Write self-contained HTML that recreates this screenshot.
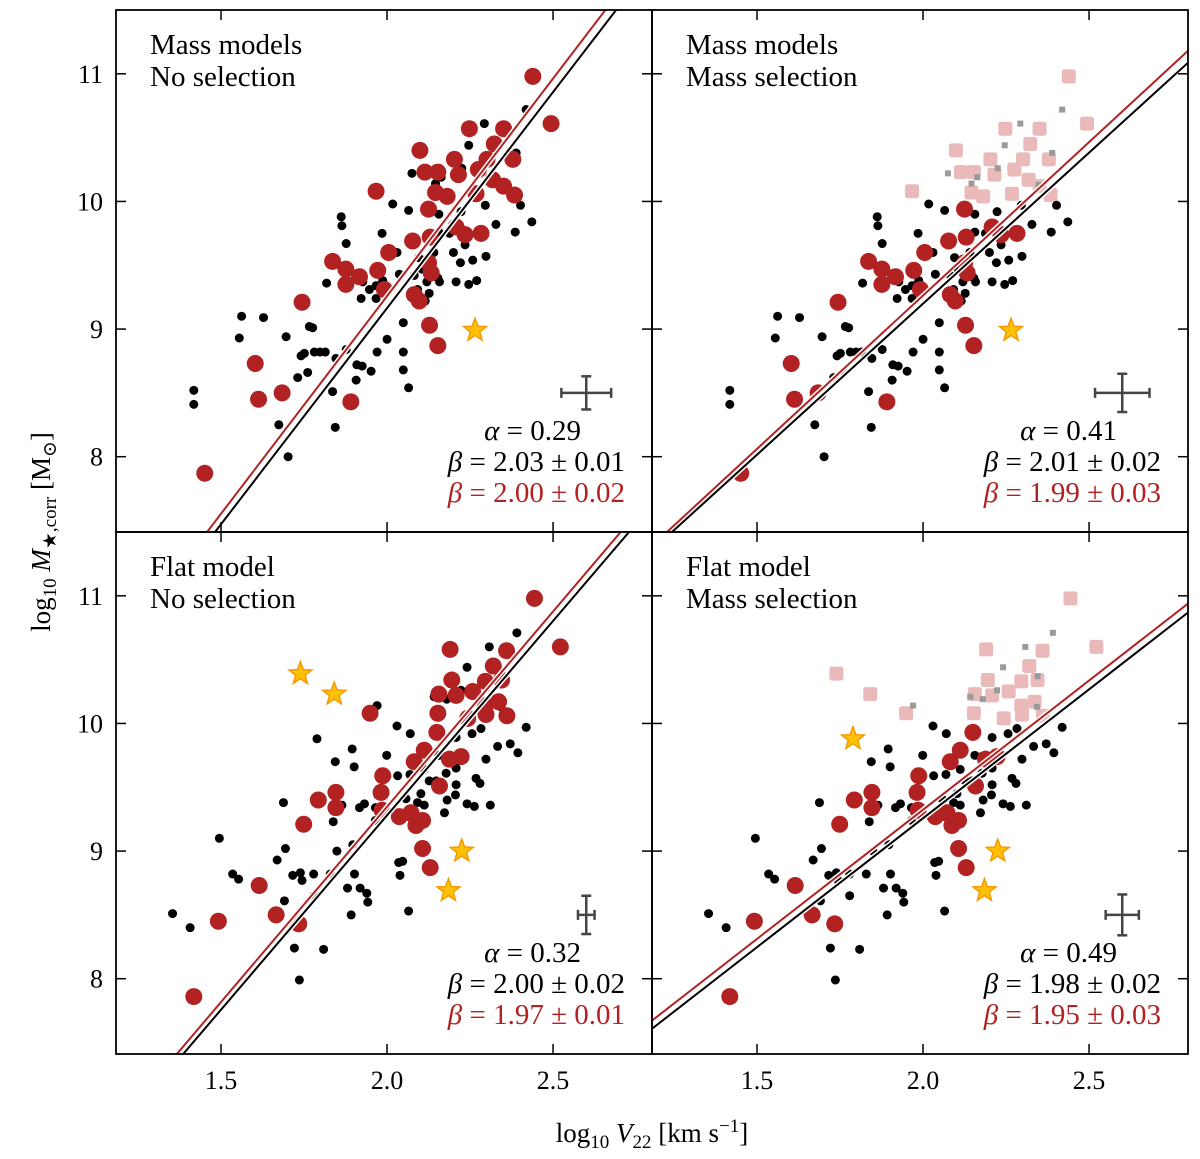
<!DOCTYPE html>
<html><head><meta charset="utf-8"><style>
body{margin:0;background:#fff;}
svg{display:block;font-family:"Liberation Serif","DejaVu Serif",serif;}
</style></head><body>
<svg id="chart" width="1200" height="1159" viewBox="0 0 1200 1159"></svg>
<script>
// ---- data ----
const xTicks=[1.5,2.0,2.5];
const xTickLabels=["1.5","2.0","2.5"];
const yTicks=[8,9,10,11];
const yTickLabels=["8","9","10","11"];
const topBlackX=[2.419,2.293,2.246,2.389,2.225,2.075,2.163,2.146,2.348,2.017,2.065,2.156,2.223,2.296,2.402,1.862,1.864,2.328,2.436,2.386,1.985,2.156,2.188,1.877,2.085,2.235,2.030,2.200,2.141,2.095,2.298,2.258,2.221,2.105,1.962,2.037,2.082,2.130,2.153,2.120,2.158,1.818,1.905,1.927,1.987,1.967,1.947,2.208,2.246,2.270,2.092,2.127,1.922,1.967,2.115,1.562,1.628,1.766,1.776,1.555,1.696,2.049,2.000,1.877,1.741,1.751,1.781,1.798,1.814,1.846,1.970,2.049,1.909,1.925,1.952,2.049,1.761,1.731,1.907,2.065,1.418,1.418,1.836,1.674,1.844,1.702];
const topBlackY=[10.72,10.61,10.44,10.38,10.26,10.22,10.19,10.14,10.13,9.98,9.93,9.90,9.92,9.97,9.97,9.88,9.81,9.82,9.84,9.76,9.75,9.76,9.75,9.67,9.70,9.66,9.60,9.60,9.60,9.56,9.57,9.54,9.52,9.47,9.45,9.43,9.42,9.44,9.40,9.37,9.37,9.36,9.39,9.37,9.38,9.34,9.31,9.37,9.35,9.38,9.31,9.28,9.24,9.24,9.22,9.10,9.09,9.02,9.01,8.93,8.94,9.05,8.92,8.84,8.79,8.81,8.82,8.82,8.82,8.77,8.82,8.82,8.72,8.71,8.67,8.68,8.66,8.62,8.60,8.54,8.52,8.41,8.51,8.25,8.23,8.00];
const topRedX=[2.439,2.494,2.248,2.351,2.323,2.099,2.203,2.301,2.379,2.114,2.153,2.215,2.275,2.318,2.351,2.384,2.146,2.181,2.268,1.967,2.125,2.208,2.235,2.283,2.077,2.130,2.005,1.836,1.876,1.917,1.972,1.876,1.992,2.125,2.133,2.082,2.097,1.744,2.128,2.153,1.603,1.613,1.684,1.891,1.451];
const topRedY=[10.98,10.61,10.57,10.57,10.45,10.40,10.33,10.33,10.33,10.23,10.23,10.21,10.25,10.17,10.12,10.05,10.07,10.04,10.06,10.08,9.94,9.80,9.74,9.75,9.69,9.72,9.60,9.53,9.47,9.41,9.46,9.35,9.31,9.52,9.44,9.27,9.22,9.21,9.03,8.87,8.73,8.45,8.50,8.43,7.87];
const topStarX=[2.265];
const topStarY=[8.99];
const botBlackX=[2.391,2.308,2.241,2.345,2.223,2.142,2.180,1.970,2.343,2.030,2.070,2.256,2.283,2.419,2.208,1.789,1.895,2.333,2.371,2.394,1.999,2.156,2.176,1.844,1.901,2.298,2.112,2.208,2.032,2.069,2.178,2.127,2.148,2.268,2.280,2.208,1.972,2.102,2.057,2.092,2.112,2.206,2.181,2.241,2.263,2.311,1.688,1.864,1.917,1.932,1.965,1.982,2.173,2.065,1.965,1.838,2.107,1.495,1.694,1.849,1.897,1.669,2.035,2.047,2.039,1.535,1.553,1.716,1.739,1.744,1.779,1.829,1.902,1.881,1.919,1.939,1.942,1.779,1.691,2.065,1.892,1.354,1.407,1.721,1.809,1.736];
const botBlackY=[10.71,10.60,10.44,10.37,10.26,10.21,10.19,10.14,10.13,9.98,9.92,9.92,9.96,9.97,9.89,9.88,9.80,9.82,9.84,9.77,9.75,9.75,9.74,9.70,9.66,9.72,9.64,9.65,9.59,9.60,9.61,9.55,9.55,9.57,9.53,9.52,9.44,9.45,9.41,9.38,9.36,9.44,9.40,9.37,9.35,9.36,9.38,9.36,9.34,9.37,9.34,9.32,9.30,9.27,9.24,9.23,9.21,9.10,9.02,9.00,9.05,8.93,8.91,8.92,8.81,8.82,8.78,8.81,8.83,8.77,8.82,8.82,8.82,8.71,8.71,8.67,8.60,8.65,8.61,8.53,8.50,8.51,8.40,8.24,8.23,7.99];
const botRedX=[2.444,2.522,2.190,2.360,2.320,2.195,2.296,2.345,2.156,2.208,2.258,2.296,2.336,2.153,2.243,2.298,2.361,1.949,2.150,2.112,2.223,2.188,2.082,1.987,1.846,1.793,1.982,2.158,1.846,1.985,2.037,2.072,2.107,2.087,1.749,2.107,2.130,1.615,1.666,1.492,1.734,1.418];
const botRedY=[10.98,10.60,10.58,10.57,10.45,10.34,10.33,10.34,10.23,10.22,10.25,10.14,10.17,10.08,10.04,10.07,10.06,10.08,9.93,9.79,9.74,9.72,9.70,9.59,9.46,9.40,9.46,9.51,9.34,9.32,9.27,9.30,9.24,9.20,9.21,9.02,8.87,8.73,8.50,8.45,8.43,7.86];
const botStarX=[1.739,1.841,2.225,2.185];
const botStarY=[10.39,10.23,9.00,8.69];
const selStarX=[1.789];
const selStarY=[9.88];
const massCut=10.0;
// fit lines: [slope, value at x=2]
const fitBlack=[[3.386,9.164],[2.366,9.199],[3.046,9.280],[2.020,9.257]];
const fitRed=[[3.41,9.258],[2.403,9.263],[3.06,9.347],[2.024,9.324]];
const errX=[2.6,2.6,2.6,2.6];
const errY=[8.5,8.5,8.5,8.5];
const errDX=[0.075,0.082,0.025,0.05];
const errDY=[0.13,0.15,0.15,0.16];
const alphas=["0.29","0.41","0.32","0.49"];
const betaBlack=["2.03 ± 0.01","2.01 ± 0.02","2.00 ± 0.02","1.98 ± 0.02"];
const betaRed=["2.00 ± 0.02","1.99 ± 0.03","1.97 ± 0.01","1.95 ± 0.03"];
const titles1=["Mass models","Mass models","Flat model","Flat model"];
const titles2=["No selection","Mass selection","No selection","Mass selection"];

const NS="http://www.w3.org/2000/svg";
const svg=document.getElementById('chart');
function mk(tag,attrs,parent){const e=document.createElementNS(NS,tag);for(const k in attrs)e.setAttribute(k,attrs[k]);(parent||svg).appendChild(e);return e;}
const panels=[{x0:116,y0:10,sel:false,top:true},{x0:652,y0:10,sel:true,top:true},{x0:116,y0:532,sel:false,top:false},{x0:652,y0:532,sel:true,top:false}];
const W=536,H=522,XMIN=1.1837,XMAX=2.798,YMIN=7.41,YMAX=11.5;

function starPath(cx,cy,R){let d="";for(let i=0;i<10;i++){const r=i%2?R*0.42:R;const a=-Math.PI/2+i*Math.PI/5;d+=(i?"L":"M")+(cx+r*Math.cos(a)).toFixed(1)+","+(cy+r*Math.sin(a)).toFixed(1);}return d+"Z";}

panels.forEach((p,i)=>{
  const sx=v=>p.x0+(v-XMIN)/(XMAX-XMIN)*W;
  const sy=v=>p.y0+H-(v-YMIN)/(YMAX-YMIN)*H;
  const g=mk('g',{});
  
  
  const cid='clip'+i;
  const cp=mk('clipPath',{id:cid},g);mk('rect',{x:p.x0,y:p.y0,width:W,height:H},cp);
  const plot=mk('g',{'clip-path':'url(#'+cid+')'},g);
  const bx=p.top?topBlackX:botBlackX, by=p.top?topBlackY:botBlackY;
  const rx=p.top?topRedX:botRedX, ry=p.top?topRedY:botRedY;
  const stx=p.top?topStarX:botStarX, sty=p.top?topStarY:botStarY;
  if(p.sel){
    rx.forEach((v,k)=>{if(ry[k]>massCut){const r=mk('rect',{x:sx(v)-7,y:sy(ry[k])-7,width:14,height:14,rx:2.5,fill:'#eab9b9'},plot);
      
      }});
    stx.forEach((v,k)=>{if(sty[k]>massCut){const r=mk('rect',{x:sx(v)-7,y:sy(sty[k])-7,width:14,height:14,rx:2.5,fill:'#eab9b9'},plot);
      
      }});
    bx.forEach((v,k)=>{if(by[k]>massCut){const r=mk('rect',{x:sx(v)-3,y:sy(by[k])-3,width:6,height:6,fill:'#9a9a9a'},plot);
      
      }});
  }
  bx.forEach((v,k)=>{if(p.sel&&by[k]>massCut)return;const c=mk('circle',{cx:sx(v),cy:sy(by[k]),r:4.5,fill:'#000'},plot);
    
    });
  rx.forEach((v,k)=>{if(p.sel&&ry[k]>massCut)return;const c=mk('circle',{cx:sx(v),cy:sy(ry[k]),r:8.5,fill:'#b22222'},plot);
    
    });
  const sX=stx.slice(), sY=sty.slice();
  if(p.sel&&!p.top){selStarX.forEach((v,k)=>{sX.push(v);sY.push(selStarY[k]);});}
  sX.forEach((v,k)=>{if(p.sel&&sY[k]>massCut)return;const s=mk('path',{d:starPath(sx(v),sy(sY[k]),12),fill:'#ffc107',stroke:'#f59a00','stroke-width':1.5},plot);
    
    });
  [[fitBlack[i],'#000'],[fitRed[i],'#b22222']].forEach(([f,col])=>{
    const y1=f[1]+f[0]*(XMIN-2),y2=f[1]+f[0]*(XMAX-2);
    mk('line',{x1:sx(XMIN),y1:sy(y1),x2:sx(XMAX),y2:sy(y2),stroke:'#fff','stroke-width':5},plot);
  });
  [[fitBlack[i],'#000'],[fitRed[i],'#b22222']].forEach(([f,col],j)=>{
    const y1=f[1]+f[0]*(XMIN-2),y2=f[1]+f[0]*(XMAX-2);
    const l=mk('line',{x1:sx(XMIN),y1:sy(y1),x2:sx(XMAX),y2:sy(y2),stroke:col,'stroke-width':2},plot);
    
    
  });
  const eb=mk('g',{stroke:'#444','stroke-width':2.5},g);
  
  
  mk('line',{x1:sx(errX[i]-errDX[i]),y1:sy(errY[i]),x2:sx(errX[i]+errDX[i]),y2:sy(errY[i])},eb);
  mk('line',{x1:sx(errX[i]),y1:sy(errY[i]-errDY[i]),x2:sx(errX[i]),y2:sy(errY[i]+errDY[i])},eb);
  [-1,1].forEach(s=>{mk('line',{x1:sx(errX[i]+s*errDX[i]),y1:sy(errY[i])-5,x2:sx(errX[i]+s*errDX[i]),y2:sy(errY[i])+5},eb);
    mk('line',{x1:sx(errX[i])-5,y1:sy(errY[i]+s*errDY[i]),x2:sx(errX[i])+5,y2:sy(errY[i]+s*errDY[i])},eb);});
  yTicks.forEach((t,k)=>{const y=sy(t);if(y<p.y0+2||y>p.y0+H-2)return;
    mk('line',{x1:p.x0,y1:y,x2:p.x0+10,y2:y,stroke:'#000','stroke-width':1.5},g);
    mk('line',{x1:p.x0+W,y1:y,x2:p.x0+W-10,y2:y,stroke:'#000','stroke-width':1.5},g);
    if(p.x0<200){const tl=mk('text',{x:p.x0-13,y:y+9,'text-anchor':'end','font-size':26},g);tl.textContent=yTickLabels[k];
      
      }
  });
  xTicks.forEach((t,k)=>{const x=sx(t);
    mk('line',{x1:x,y1:p.y0+H,x2:x,y2:p.y0+H-10,stroke:'#000','stroke-width':1.5},g);
    mk('line',{x1:x,y1:p.y0,x2:x,y2:p.y0+10,stroke:'#000','stroke-width':1.5},g);
    if(!p.top){const tl=mk('text',{x:x,y:1089,'text-anchor':'middle','font-size':26},g);tl.textContent=xTickLabels[k];
      
      }
  });
  mk('rect',{x:p.x0,y:p.y0,width:W,height:H,fill:'none',stroke:'#000','stroke-width':1.8},g);
  const t1=mk('text',{x:p.x0+34,y:p.y0+44,'font-size':29},g);t1.textContent=titles1[i];
  
  
  const t2=mk('text',{x:p.x0+34,y:p.y0+76,'font-size':29},g);t2.textContent=titles2[i];
  
  
  const ax=p.x0+W-27;
  const a=mk('text',{x:ax-44,y:p.y0+430,'text-anchor':'end','font-size':29},g);
  a.innerHTML='<tspan font-style="italic">α</tspan> = '+alphas[i];
  
  
  const b1=mk('text',{x:ax,y:p.y0+461,'text-anchor':'end','font-size':29},g);
  b1.innerHTML='<tspan font-style="italic">β</tspan> = '+betaBlack[i];
  
  
  const b2=mk('text',{x:ax,y:p.y0+492,'text-anchor':'end','font-size':29,fill:'#b22222'},g);
  b2.innerHTML='<tspan font-style="italic">β</tspan> = '+betaRed[i];
  
  
});
const xl=mk('text',{x:652,y:1142,'text-anchor':'middle','font-size':27});
xl.innerHTML='log<tspan font-size="19" dy="6">10</tspan><tspan dy="-6"> </tspan><tspan font-style="italic">V</tspan><tspan font-size="19" dy="6">22</tspan><tspan dy="-6"> [km s</tspan><tspan font-size="19" dy="-10">−1</tspan><tspan dy="10">]</tspan>';


const yl=mk('text',{x:0,y:0,'text-anchor':'middle','font-size':27,transform:'translate(50,532) rotate(-90)'});
yl.innerHTML='log<tspan font-size="19" dy="6">10</tspan><tspan dy="-6"> </tspan><tspan font-style="italic">M</tspan><tspan font-size="19" dy="6">★,corr</tspan><tspan dy="-6"> [M</tspan><tspan font-size="19" dy="6">⊙</tspan><tspan dy="-6">]</tspan>';


</script>
</body></html>
